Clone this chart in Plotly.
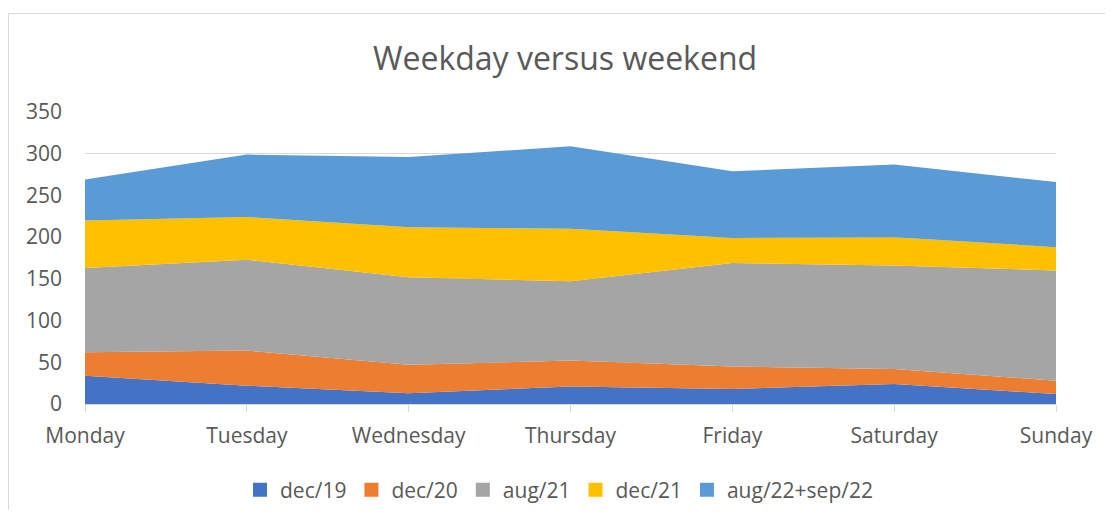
import plotly.graph_objects as go

days = ["Monday", "Tuesday", "Wednesday", "Thursday", "Friday", "Saturday", "Sunday"]
dec19 = [34, 22, 13, 21, 18, 24, 12]
dec20 = [28, 42, 34, 31, 27, 18, 16]
aug21 = [101, 109, 105, 95, 124, 124, 132]
dec21 = [57, 51, 60, 63, 30, 34, 28]
aug22_sep22 = [49, 75, 84, 99, 80, 87, 78]

series_names = ["dec/19", "dec/20", "aug/21", "dec/21", "aug/22+sep/22"]
series_values = [dec19, dec20, aug21, dec21, aug22_sep22]
colors = ["#4472C4", "#ED7D31", "#A5A5A5", "#FFC000", "#5B9BD5"]

FONT = "Open Sans"
TXT = "#595959"
GRID = "#D9D9D9"

fig = go.Figure()
for name, vals, col in zip(series_names, series_values, colors):
    fig.add_trace(go.Scatter(
        x=days, y=vals, name=name, stackgroup="one", mode="none",
        fillcolor=col, line=dict(width=0), showlegend=False,
    ))
for name, col in zip(series_names, colors):
    fig.add_trace(go.Scatter(
        x=[None], y=[None], name=name, mode="markers",
        marker=dict(symbol="square", size=14, color=col),
        showlegend=True,
    ))

# page body has an 8px margin; figure sized to fit inside the window
OFF = 8
W, H = 1113 - 2 * OFF, 518 - 2 * OFF
PL, PR, PT, PB = 85, 1056, 112, 404  # plot area in window pixels
L, T = PL - OFF, PT - OFF
R = W - (PR - OFF)
B = H - (PB - OFF)
pw = PR - PL
ph = PB - PT

def px_x(x):
    return (x - PL) / pw

def px_y(y):
    return (PB - y) / ph

fig.add_shape(type="rect", xref="paper", yref="paper",
              x0=px_x(8.5), x1=px_x(1130), y0=px_y(540), y1=px_y(13.5),
              line=dict(color=GRID, width=1), fillcolor="rgba(0,0,0,0)", layer="below")

fig.update_layout(
    width=W, height=H,
    margin=dict(l=L, r=R, t=T, b=B, pad=0, autoexpand=False),
    paper_bgcolor="white", plot_bgcolor="white",
    font=dict(family=FONT, color=TXT, size=21),
    title=dict(text="Weekday versus weekend", x=(565 - OFF) / W, xanchor="center",
               y=1 - (59 - OFF) / H, yanchor="middle",
               font=dict(family=FONT, size=32, color=TXT)),
    xaxis=dict(type="category", range=[0, 6], showgrid=False, showline=True,
               linecolor=GRID, linewidth=1, ticks="outside", ticklen=7, tickcolor=GRID,
               tickfont=dict(size=21, color=TXT), ticklabelstandoff=6, fixedrange=True),
    yaxis=dict(range=[0, 350], dtick=50, showgrid=True, gridcolor=GRID, gridwidth=1,
               zeroline=False, showline=False, ticks="", tickfont=dict(size=21, color=TXT),
               ticklabelstandoff=22),
    legend=dict(orientation="h", x=px_x(240), xanchor="left", y=px_y(490), yanchor="middle",
                font=dict(size=21, color=TXT), traceorder="normal",
                bgcolor="rgba(0,0,0,0)"),
    showlegend=True,
)

fig.write_html("out.html")
